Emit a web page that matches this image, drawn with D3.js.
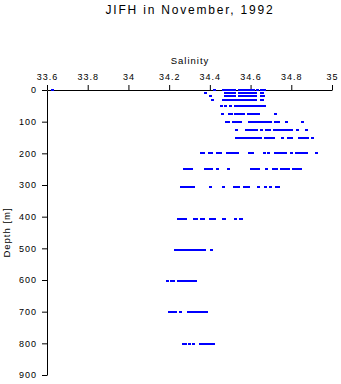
<!DOCTYPE html>
<html>
<head>
<meta charset="utf-8">
<script src="https://cdn.jsdelivr.net/npm/d3@7"></script>
<style>
  html, body { margin: 0; padding: 0; background: #fff; }
  svg { display: block; }
  text { font-family: "Liberation Sans", Arial, sans-serif; fill: #000; }
</style>
</head>
<body>
<svg id="chart" width="341" height="384"></svg>
<script>
// Salinity profile casts, grouped by sampling depth (m)
const depths = [0, 10, 20, 30, 50, 75, 100, 125, 150, 200, 250, 307, 407, 504, 602, 701, 802];

const sal0   = [33.625, 34.419, 34.467, 34.478, 34.49, 34.501, 34.512, 34.52, 34.541, 34.553, 34.564, 34.576, 34.588, 34.599, 34.61, 34.614, 34.631, 34.652, 34.665];
const sal10  = [34.376, 34.475, 34.486, 34.497, 34.508, 34.519, 34.544, 34.556, 34.567, 34.579, 34.59, 34.601, 34.612, 34.621, 34.651, 34.658];
const sal20  = [34.402, 34.476, 34.487, 34.498, 34.509, 34.519, 34.545, 34.556, 34.568, 34.58, 34.59, 34.602, 34.613, 34.621, 34.652, 34.659];
const sal30  = [34.41, 34.467, 34.479, 34.49, 34.502, 34.513, 34.524, 34.535, 34.547, 34.558, 34.569, 34.58, 34.592, 34.603, 34.614, 34.621, 34.652, 34.658];
const sal50  = [34.454, 34.474, 34.499, 34.524, 34.536, 34.547, 34.558, 34.57, 34.581, 34.592, 34.604, 34.615, 34.626, 34.638, 34.649, 34.66, 34.667];
const sal75  = [34.459, 34.496, 34.502, 34.524, 34.535, 34.546, 34.556, 34.565, 34.587, 34.598, 34.609, 34.62, 34.631, 34.637, 34.721];
const sal100 = [34.48, 34.49, 34.513, 34.524, 34.531, 34.549, 34.593, 34.604, 34.615, 34.627, 34.638, 34.649, 34.66, 34.672, 34.683, 34.696, 34.721, 34.736, 34.776, 34.854];
const sal125 = [34.529, 34.578, 34.589, 34.6, 34.611, 34.622, 34.629, 34.651, 34.677, 34.69, 34.715, 34.724, 34.741, 34.752, 34.763, 34.775, 34.787, 34.8, 34.828, 34.872];
const sal150 = [34.529, 34.54, 34.552, 34.563, 34.574, 34.586, 34.597, 34.608, 34.62, 34.631, 34.641, 34.646, 34.672, 34.684, 34.695, 34.706, 34.711, 34.754, 34.786, 34.798, 34.837, 34.848, 34.86, 34.871, 34.878, 34.901];
const sal200 = [34.357, 34.364, 34.398, 34.408, 34.436, 34.451, 34.485, 34.496, 34.508, 34.519, 34.531, 34.593, 34.608, 34.668, 34.687, 34.719, 34.73, 34.742, 34.754, 34.765, 34.77, 34.8, 34.824, 34.836, 34.848, 34.86, 34.872, 34.922];
const sal250 = [34.275, 34.286, 34.297, 34.307, 34.377, 34.389, 34.4, 34.405, 34.435, 34.487, 34.6, 34.612, 34.624, 34.637, 34.677, 34.71, 34.727, 34.75, 34.762, 34.774, 34.785, 34.808, 34.82, 34.831, 34.842];
const sal300 = [34.259, 34.27, 34.282, 34.294, 34.306, 34.318, 34.4, 34.467, 34.518, 34.53, 34.539, 34.57, 34.58, 34.588, 34.636, 34.669, 34.694, 34.726, 34.736];
const sal400 = [34.243, 34.255, 34.267, 34.28, 34.321, 34.334, 34.357, 34.367, 34.401, 34.406, 34.422, 34.464, 34.47, 34.523, 34.548, 34.551];
const sal500 = [34.229, 34.241, 34.253, 34.265, 34.276, 34.288, 34.3, 34.312, 34.323, 34.335, 34.347, 34.358, 34.368, 34.372, 34.408];
const sal600 = [34.188, 34.21, 34.221, 34.243, 34.255, 34.267, 34.279, 34.291, 34.303, 34.315, 34.326];
const sal700 = [34.201, 34.214, 34.228, 34.255, 34.292, 34.304, 34.316, 34.328, 34.34, 34.352, 34.364, 34.376, 34.383];
const sal800 = [34.27, 34.277, 34.3, 34.318, 34.352, 34.364, 34.376, 34.388, 34.4, 34.412, 34.416];

const salinityByDepth = [sal0, sal10, sal20, sal30, sal50, sal75, sal100, sal125, sal150,
                         sal200, sal250, sal300, sal400, sal500, sal600, sal700, sal800];

const salinityTicks  = [33.6, 33.8, 34.0, 34.2, 34.4, 34.6, 34.8, 35.0];
const salinityLabels = ["33.6", "33.8", "34", "34.2", "34.4", "34.6", "34.8", "35"];
const depthTicks     = [0, 100, 200, 300, 400, 500, 600, 700, 800, 900];
const depthLabels    = ["0", "100", "200", "300", "400", "500", "600", "700", "800", "900"];

const titleText = "JIFH in November, 1992";
const xTitle = "Salinity";
const yTitle = "Depth [m]";

const svg = d3.select("#chart");

const x = d3.scaleLinear().domain([33.6, 35]).range([47, 332]);
const y = d3.scaleLinear().domain([0, 900]).range([90, 375]);

// Flatten to one record per sample
const samples = [];
depths.forEach((d, i) => {
  salinityByDepth[i].forEach(s => samples.push({ depth: d, salinity: s }));
});

// Title
svg.append("text")
  .attr("x", 190).attr("y", 13.5)
  .attr("text-anchor", "middle")
  .style("font-size", "12px")
  .style("letter-spacing", "1.8px")
  .text(titleText);

// Salinity axis along the top
const xAxis = svg.append("g")
  .attr("transform", `translate(0,${y(0)})`)
  .call(d3.axisTop(x)
    .tickValues(salinityTicks)
    .tickFormat((d, i) => salinityLabels[i])
    .tickSize(5).tickSizeOuter(0).tickPadding(5));
xAxis.selectAll("text")
  .style("font-size", "9px")
  .style("font-family", "'Liberation Sans', Arial, sans-serif")
  .style("letter-spacing", "1px");

svg.append("text")
  .attr("x", 190).attr("y", 64)
  .attr("text-anchor", "middle")
  .style("font-size", "9.5px")
  .style("letter-spacing", "1px")
  .text(xTitle);

// Depth axis on the left
const yAxis = svg.append("g")
  .attr("transform", `translate(${x(33.6)},0)`)
  .call(d3.axisLeft(y)
    .tickValues(depthTicks)
    .tickFormat((d, i) => depthLabels[i])
    .tickSize(5).tickSizeOuter(0).tickPadding(5));
yAxis.selectAll("text")
  .style("font-size", "9px")
  .style("font-family", "'Liberation Sans', Arial, sans-serif")
  .style("letter-spacing", "1px");

svg.append("text")
  .attr("transform", `translate(9.5,${(y(0) + y(900)) / 2}) rotate(-90)`)
  .attr("text-anchor", "middle")
  .style("font-size", "9.5px")
  .style("letter-spacing", "1px")
  .text(yTitle);

// Sample markers
svg.append("g")
  .attr("fill", "#0000ff")
  .attr("shape-rendering", "crispEdges")
  .selectAll("rect")
  .data(samples)
  .join("rect")
  .attr("x", d => Math.round(x(d.salinity)) - 1)
  .attr("y", d => Math.round(y(d.depth)) - 1)
  .attr("width", 3)
  .attr("height", 2);
</script>
</body>
</html>
